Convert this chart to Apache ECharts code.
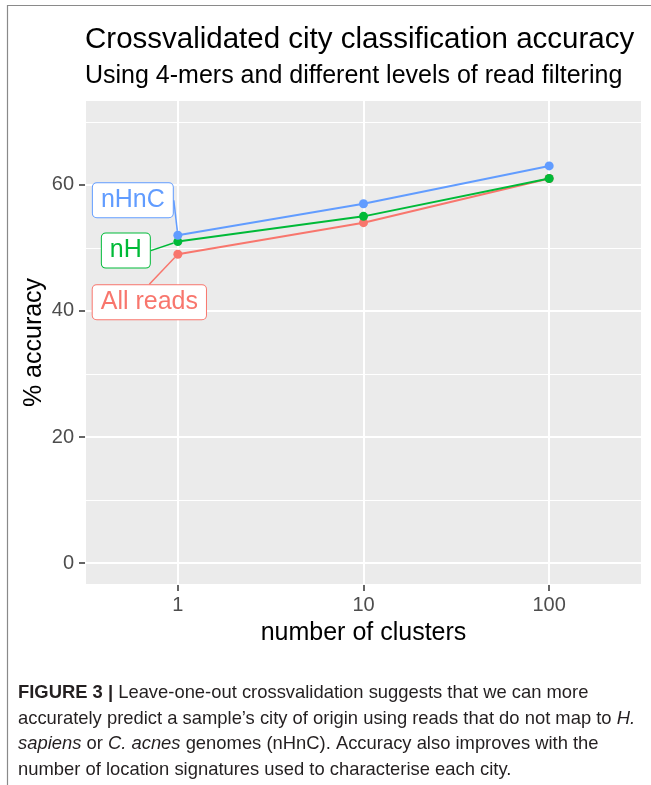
<!DOCTYPE html>
<html>
<head>
<meta charset="utf-8">
<script src="https://cdn.jsdelivr.net/npm/echarts@6/dist/echarts.min.js"></script>
<style>
  html, body { margin: 0; padding: 0; background: #ffffff; }
  #chart { width: 651px; height: 785px; }
</style>
</head>
<body>
<div id="chart"></div>
<script>
// Number of location signatures (clusters) per city
const clusters = [1, 10, 100];

// Crossvalidated accuracy (%) for each read-filtering level
const allReads = [49, 54, 61];
const nH = [51, 55, 61];
const nHnC = [52, 57, 63];

const seriesNames = ['All reads', 'nH', 'nHnC'];
const seriesColors = ['#F8766D', '#00BA38', '#619CFF'];

const titleText = 'Crossvalidated city classification accuracy';
const subtitleText = 'Using 4-mers and different levels of read filtering';
const xName = 'number of clusters';
const yName = '% accuracy';

const captionLines = [
  '{b|FIGURE 3 |} Leave-one-out crossvalidation suggests that we can more',
  'accurately predict a sample\u2019s city of origin using reads that do not map to {i|H.}',
  '{i|sapiens} or {i|C. acnes} genomes (nHnC). Accuracy also improves with the',
  'number of location signatures used to characterise each city.'
];

const FONT = '"Liberation Sans", Arial, Helvetica, sans-serif';
const CAPTION_SIZE = 18.4;

// Offsets of each repelled label box from its first point
const labelOffsets = [
  { dx: -28.5, dy: 48 },
  { dx: -52, dy: 9 },
  { dx: -45, dy: -35 }
];

function buildSeries(values, i) {
  const color = seriesColors[i];
  return {
    name: seriesNames[i],
    type: 'line',
    symbol: 'circle',
    symbolSize: 9,
    z: 2 + i,
    lineStyle: { color: color, width: 2 },
    itemStyle: { color: color },
    emphasis: { disabled: true },
    labelLayout: labelOffsets[i],
    data: values.map(function (v, k) {
      const item = { value: [clusters[k], v] };
      if (k === 0) {
        item.label = {
          show: true,
          position: 'inside',
          formatter: seriesNames[i],
          color: color,
          fontFamily: FONT,
          fontSize: 25,
          lineHeight: 25,
          backgroundColor: '#ffffff',
          borderColor: color,
          borderWidth: 1,
          borderRadius: 4,
          padding: [5, 8, 4, 8]
        };
        item.labelLine = { show: true, lineStyle: { color: color, width: 1.5 } };
      }
      return item;
    })
  };
}

const chart = echarts.init(document.getElementById('chart'), null, { renderer: 'canvas' });

chart.setOption({
  animation: false,
  backgroundColor: '#ffffff',
  title: [
    {
      text: titleText,
      left: 85,
      top: 25,
      padding: 0,
      textStyle: { fontFamily: FONT, fontSize: 29.5, fontWeight: 'normal', color: '#000000' }
    },
    {
      text: subtitleText,
      left: 85,
      top: 64,
      padding: 0,
      textStyle: { fontFamily: FONT, fontSize: 25, fontWeight: 'normal', color: '#000000' }
    }
  ],
  grid: {
    left: 85,
    right: 9,
    top: 100,
    bottom: 200,
    show: true,
    backgroundColor: '#EBEBEB',
    borderWidth: 0,
    containLabel: false
  },
  xAxis: {
    type: 'log',
    logBase: 10,
    min: Math.pow(10, -0.5),
    max: Math.pow(10, 2.5),
    name: xName,
    nameLocation: 'middle',
    nameGap: 36,
    nameMoveOverlap: false,
    nameTextStyle: { fontFamily: FONT, fontSize: 25, color: '#000000' },
    axisLine: { show: false, onZero: false },
    axisTick: { show: true, length: 6, lineStyle: { color: '#333333', width: 1.5 } },
    axisLabel: {
      show: true,
      showMinLabel: false,
      showMaxLabel: false,
      margin: 10,
      fontFamily: FONT,
      fontSize: 20,
      color: '#4D4D4D'
    },
    splitLine: { show: true, lineStyle: { color: '#ffffff', width: 2 } },
    minorTick: { show: false },
    minorSplitLine: { show: false }
  },
  yAxis: {
    type: 'value',
    min: -3.45,
    max: 73.45,
    name: yName,
    nameLocation: 'middle',
    nameGap: 38,
    nameMoveOverlap: false,
    nameRotate: 90,
    nameTextStyle: { fontFamily: FONT, fontSize: 25, color: '#000000' },
    axisLine: { show: false, onZero: false },
    axisTick: { show: true, length: 6, lineStyle: { color: '#333333', width: 1.5 } },
    axisLabel: {
      show: true,
      showMinLabel: false,
      showMaxLabel: false,
      margin: 11,
      fontFamily: FONT,
      fontSize: 20,
      color: '#4D4D4D'
    },
    splitLine: { show: true, lineStyle: { color: '#ffffff', width: 2 } },
    minorTick: { show: false, splitNumber: 2 },
    minorSplitLine: { show: true, lineStyle: { color: '#ffffff', width: 1 } }
  },
  graphic: [
    {
      type: 'polyline',
      silent: true,
      shape: { points: [[7.5, 785], [7.5, 5.5], [651, 5.5]] },
      style: { stroke: '#8a8a8a', lineWidth: 1.2, fill: null }
    },
    {
      type: 'text',
      silent: true,
      x: 18,
      y: 680,
      style: {
        text: captionLines.join('\n'),
        fontFamily: FONT,
        fontSize: CAPTION_SIZE,
        lineHeight: 25.7,
        fill: '#231F20',
        rich: {
          b: { fontFamily: FONT, fontSize: CAPTION_SIZE, fontWeight: 'bold', fill: '#231F20', lineHeight: 25.7 },
          i: { fontFamily: FONT, fontSize: CAPTION_SIZE, fontStyle: 'italic', fill: '#231F20', lineHeight: 25.7 }
        }
      }
    }
  ],
  series: [
    buildSeries(allReads, 0),
    buildSeries(nH, 1),
    buildSeries(nHnC, 2)
  ]
});
</script>
</body>
</html>
